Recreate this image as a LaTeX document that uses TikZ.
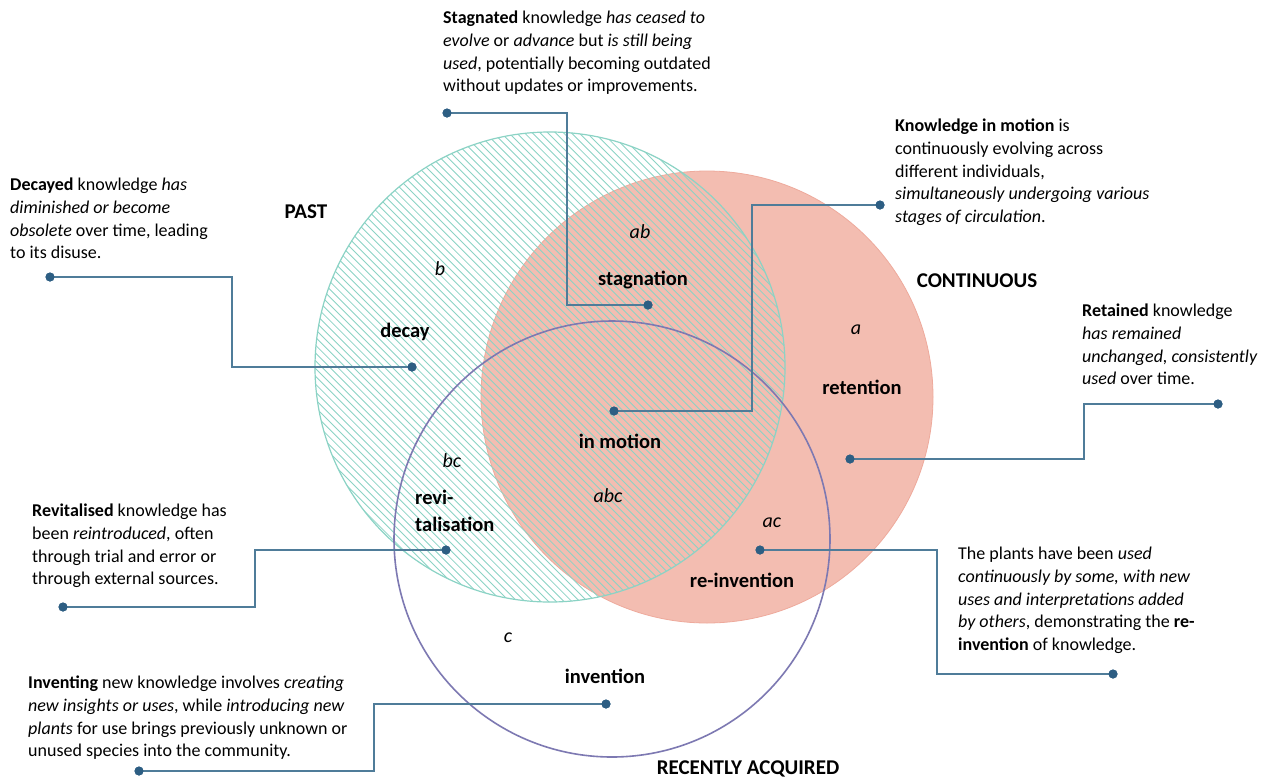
\documentclass[tikz,border=0pt]{standalone}
\usepackage{fontspec}
\setmainfont{Carlito}
\definecolor{salmonfill}{HTML}{F3BDB1}
\definecolor{salmonedge}{HTML}{EEAA9C}
\definecolor{hatchteal}{HTML}{8BD3C5}
\definecolor{purp}{HTML}{7D79B2}
\definecolor{connc}{HTML}{4F7C99}
\definecolor{dotc}{HTML}{2D5E83}
\begin{document}
\begin{tikzpicture}[x=1pt,y=-1pt,
  dotnode/.style={circle,fill=dotc,inner sep=0pt,minimum size=9pt},
  connline/.style={draw=connc,line width=1.3pt},
  desc/.style={anchor=north west,align=left,inner sep=0pt,font=\fontsize{18}{22.7}\selectfont},
  lbl/.style={font=\fontsize{20.5}{27}\selectfont\bfseries,inner sep=0pt},
  ttl/.style={font=\fontsize{21}{25}\selectfont\bfseries,inner sep=0pt},
  reg/.style={font=\fontsize{20}{22}\selectfont\itshape,inner sep=0pt}]
\useasboundingbox (0,0) rectangle (1266,780);
\fill[white] (0,0) rectangle (1266,780);
% continuous circle
\fill[salmonfill] (707,397) circle (226pt);
\draw[salmonedge,line width=0.8pt] (707,397) circle (226pt);
% past circle hatch
\begin{scope}
\clip (550,367) circle (235pt);
\foreach \c in {-170,-162.2,...,530} \draw[hatchteal,line width=0.85pt] (\c+110,110) -- (\c+620,620);
\end{scope}
\draw[hatchteal,line width=1.2pt] (550,367) circle (235pt);
% recently acquired circle
\draw[purp,line width=1.6pt] (612,539) circle (218pt);

% circle titles
\node[ttl] (past) at (306,212) {PAST};
\node[ttl] (cont) at (977,281) {CONTINUOUS};
\node[ttl] (recent) at (748,769) {RECENTLY ACQUIRED};

% region letters
\node[reg] (rb) at (440,269) {b};
\node[reg] (rab) at (640,232) {ab};
\node[reg] (ra) at (856,330) {a};
\node[reg] (rbc) at (452,461) {bc};
\node[reg] (rabc) at (608,496) {abc};
\node[reg] (rac) at (772,523) {ac};
\node[reg] (rc) at (508,638) {c};

% region names
\node[lbl] (ndecay) at (405,332) {decay};
\node[lbl] (nstag) at (643,280) {stagnation};
\node[lbl] (nret) at (862,387) {retention};
\node[lbl] (nmot) at (620,441) {in motion};
\node[lbl,align=left,anchor=west] (nrev) at (415,511) {revi-\\talisation};
\node[lbl] (nrei) at (742,580) {re-invention};
\node[lbl] (ninv) at (605,676) {invention};

% dots
\node[dotnode] (sA) at (447,113) {};
\node[dotnode] (sB) at (648,305) {};
\coordinate (sK) at (567,200);
\node[dotnode] (dA) at (50,277) {};
\node[dotnode] (dB) at (412,367) {};
\coordinate (dK) at (232,320);
\node[dotnode] (mA) at (880,205) {};
\node[dotnode] (mB) at (614,411) {};
\coordinate (mK) at (752,300);
\node[dotnode] (rA) at (1218,404) {};
\node[dotnode] (rB) at (850,459) {};
\coordinate (rK) at (1084,430);
\node[dotnode] (vA) at (63,607) {};
\node[dotnode] (vB) at (446,550) {};
\coordinate (vK) at (255,580);
\node[dotnode] (eA) at (760,550) {};
\node[dotnode] (eB) at (1113,674) {};
\coordinate (eK) at (937,610);
\node[dotnode] (iA) at (139,771) {};
\node[dotnode] (iB) at (606,704) {};
\coordinate (iK) at (374,740);

\draw[connline] (sA.center) -| (sK) |- (sB.center);
\draw[connline] (dA.center) -| (dK) |- (dB.center);
\draw[connline] (mA.center) -| (mK) |- (mB.center);
\draw[connline] (rA.center) -| (rK) |- (rB.center);
\draw[connline] (vA.center) -| (vK) |- (vB.center);
\draw[connline] (eA.center) -| (eK) |- (eB.center);
\draw[connline] (iA.center) -| (iK) |- (iB.center);
\foreach \d in {sA,sB,dA,dB,mA,mB,rA,rB,vA,vB,eA,eB,iA,iB} \fill[dotc] (\d.center) circle (4.5pt);

% descriptions
\node[desc] (tstag) at (443,11) {\textbf{Stagnated} knowledge \textit{has ceased to}\\ \textit{evolve} or \textit{advance} but \textit{is still being}\\ \textit{used}, potentially becoming outdated\\ without updates or improvements.};
\node[desc] (tdec) at (10,178) {\textbf{Decayed} knowledge \textit{has}\\ \textit{diminished or become}\\ \textit{obsolete} over time, leading\\ to its disuse.};
\node[desc] (tmot) at (895,119) {\textbf{Knowledge in motion} is\\ continuously evolving across\\ different individuals,\\ \textit{simultaneously undergoing various}\\ \textit{stages of circulation}.};
\node[desc] (tret) at (1082,304) {\textbf{Retained} knowledge\\ \textit{has remained}\\ \textit{unchanged, consistently}\\ \textit{used} over time.};
\node[desc] (trev) at (32,504) {\textbf{Revitalised} knowledge has\\ been \textit{reintroduced}, often\\ through trial and error or\\ through external sources.};
\node[desc] (trei) at (958,547) {The plants have been \textit{used}\\ \textit{continuously by some, with new}\\ \textit{uses and interpretations added}\\ \textit{by others}, demonstrating the \textbf{re-}\\ \textbf{invention} of knowledge.};
\node[desc] (tinv) at (28,676) {\textbf{Inventing} new knowledge involves \textit{creating}\\ \textit{new insights or uses}, while \textit{introducing new}\\ \textit{plants} for use brings previously unknown or\\ unused species into the community.};
\end{tikzpicture}
\end{document}
